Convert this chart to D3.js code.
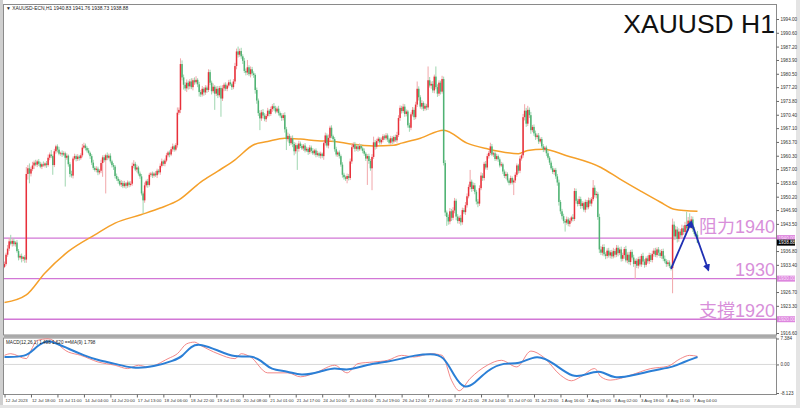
<!DOCTYPE html>
<html><head><meta charset="utf-8">
<script src="https://cdn.jsdelivr.net/npm/d3@7/dist/d3.min.js"></script>
<style>
body{margin:0;background:#fff}
svg{display:block}
text{font-family:"Liberation Sans",Arial,"Noto Sans CJK TC",sans-serif}
</style>
</head><body>
<svg id="c" width="800" height="408"></svg>
<script>
// ---------------- data ----------------
const timeLabels = ["12 Jul 2023","12 Jul 18:00","13 Jul 11:00","14 Jul 04:00","14 Jul 20:00","17 Jul 13:00","18 Jul 06:00","18 Jul 22:00","19 Jul 15:00","20 Jul 08:00","21 Jul 01:00","21 Jul 17:00","24 Jul 10:00","25 Jul 03:00","25 Jul 19:00","26 Jul 12:00","27 Jul 05:00","27 Jul 21:00","28 Jul 14:00","31 Jul 07:00","31 Jul 23:00","1 Aug 16:00","2 Aug 09:00","3 Aug 02:00","3 Aug 18:00","4 Aug 11:00","7 Aug 04:00"];
const priceTicks = [1994.00,1990.60,1987.20,1983.90,1980.50,1977.20,1973.80,1970.40,1967.10,1963.70,1960.30,1957.00,1953.60,1950.20,1946.90,1943.50,1936.80,1933.40,1926.70,1923.30,1916.60];
const levelPrices = [1940.00, 1930.00, 1920.00];
const levelNotes = ["阻力1940", "1930", "支撐1920"];
const lastPrice = 1938.88;
const headerText = "▼ XAUUSD-ECN,H1  1940.83 1941.76 1938.73 1938.88";
const macdLabel = "MACD(12,26,1) 1.498 1.620  ==MA(9) 1.798";
const macdTicks = [7.384, 0.00, -8.123];

const firstOpen = 1932.9;
const closes = [
// 12 Jul
1933.6,1935.9,1937.4,1939.2,1938.6,1939.3,1938.5,1938.9,1936.8,1935.2,1935.6,1934.9,1935.3,1934.7,1955.8,1957.2,1955.9,1957.0,1957.9,1958.6,1958.1,1958.9,1958.3,
// 13 Jul
1957.6,1958.2,1957.9,1958.4,1958.0,1959.8,1960.6,1960.2,1958.0,1961.4,1962.6,1961.8,1960.8,1961.0,1960.6,1960.9,1959.8,1960.3,1958.2,1955.8,1955.4,1959.6,1960.2,1959.5,
// 14 Jul
1960.1,1959.7,1960.4,1962.3,1962.8,1962.2,1961.6,1961.0,1960.2,1958.6,1957.3,1956.8,1957.1,1956.2,1956.6,1958.5,1959.9,1959.2,1960.4,1959.8,1960.3,1958.9,1958.0,1957.6,
// 17 Jul
1955.3,1954.6,1954.1,1953.2,1953.6,1952.8,1953.5,1952.9,1953.7,1953.1,1953.4,1957.8,1958.3,1956.9,1957.4,1955.9,1955.2,1951.0,1949.3,1953.0,1954.0,1953.1,1955.6,1955.9,
// 18 Jul
1955.4,1955.9,1955.5,1956.6,1956.2,1957.8,1958.9,1958.3,1959.1,1960.4,1961.1,1960.6,1961.9,1962.6,1961.8,1962.9,1970.9,1971.6,1982.9,1979.6,1977.8,1976.9,1978.3,1977.4,
// 19 Jul
1978.6,1977.2,1978.9,1978.4,1979.0,1977.9,1976.0,1975.4,1976.8,1975.9,1977.1,1976.5,1980.9,1978.3,1976.2,1977.3,1975.6,1976.8,1975.2,1977.0,1974.4,1976.9,1977.8,1976.8,
// 20 Jul
1977.6,1978.4,1977.9,1977.2,1978.6,1982.4,1986.0,1985.2,1986.1,1984.8,1983.7,1981.2,1980.8,1982.1,1980.4,1981.6,1980.6,1980.2,1976.5,1973.9,1970.8,1969.5,1971.0,1970.2,
// 21 Jul
1969.3,1970.1,1971.4,1970.6,1971.8,1972.5,1972.0,1971.2,1971.9,1970.8,1970.2,1969.6,1970.3,1966.8,1964.4,1965.2,1963.4,1964.6,1963.2,1961.4,1962.9,1962.0,1963.3,1962.7,
// 24 Jul
1962.1,1962.8,1961.6,1962.0,1961.2,1962.3,1961.5,1960.9,1961.6,1960.5,1960.9,1960.3,1960.8,1960.2,1963.4,1965.3,1962.8,1964.7,1967.2,1965.1,1964.4,1961.9,1960.6,1961.1,
// 25 Jul
1960.2,1958.1,1955.6,1955.0,1954.6,1955.3,1954.8,1958.9,1962.4,1963.1,1962.0,1962.6,1961.9,1962.7,1962.1,1961.5,1960.8,1959.6,1960.2,1959.0,1957.2,1960.0,1963.6,1962.5,
// 26 Jul
1963.9,1964.5,1963.6,1964.2,1965.1,1964.6,1965.3,1964.3,1963.5,1964.6,1963.8,1964.9,1964.1,1965.4,1969.6,1972.1,1971.3,1972.4,1970.6,1971.2,1967.8,1967.2,1970.5,1971.6,
// 27 Jul
1969.8,1972.9,1976.8,1974.7,1972.4,1973.3,1971.9,1972.6,1972.2,1978.9,1977.6,1978.0,1976.4,1979.8,1977.2,1975.6,1978.3,1976.1,1979.2,1958.5,1946.3,1945.2,1944.1,1946.6,
// 28 Jul
1945.0,1946.8,1949.2,1945.3,1944.2,1945.0,1943.9,1946.9,1946.4,1948.1,1950.3,1952.6,1953.9,1952.1,1953.0,1951.4,1949.0,1948.5,1952.3,1955.4,1954.8,1958.3,1957.4,1960.2,
// 31 Jul
1961.0,1962.6,1960.6,1960.9,1959.5,1960.2,1959.4,1957.9,1958.2,1956.4,1955.3,1955.8,1954.2,1953.6,1954.8,1953.7,1954.2,1955.6,1957.9,1956.6,1959.6,1960.4,1969.8,1971.4,
// 1 Aug
1968.2,1971.6,1970.3,1966.6,1967.4,1965.8,1964.9,1965.3,1963.8,1964.4,1962.6,1961.8,1962.3,1960.9,1959.8,1958.6,1957.2,1956.3,1956.8,1955.2,1953.7,1948.9,1946.6,1945.4,
// 2 Aug
1944.2,1943.8,1944.6,1943.5,1944.3,1945.1,1944.7,1951.6,1949.2,1948.4,1949.6,1947.9,1948.6,1947.0,1948.9,1947.6,1949.3,1948.5,1949.6,1952.4,1950.6,1950.9,1945.2,1937.2,
// 3 Aug
1936.4,1937.8,1936.0,1935.6,1936.9,1935.7,1936.5,1935.5,1936.8,1935.9,1937.6,1936.3,1937.2,1934.9,1935.8,1937.3,1934.5,1935.9,1934.1,1936.6,1935.2,1933.6,1934.4,1933.2,
// 4 Aug
1934.8,1933.5,1935.6,1934.2,1933.4,1935.0,1934.3,1935.8,1934.6,1936.1,1936.9,1935.8,1937.2,1936.4,1935.6,1936.8,1934.9,1934.3,1933.6,1934.0,1933.1,1932.6,1943.3,1940.4,
// 7 Aug
1942.1,1939.8,1941.6,1940.7,1942.4,1941.5,1943.2,1942.4,1944.3,1943.1,1944.6,1942.2,1941.0,1940.83,1938.88
];
const upperWicks = [
0.6,0.5,0.9,0.8,1.6,0.5,0.7,0.4,0.6,0.5,0.4,0.6,0.3,0.5,1.7,0.8,1.2,0.6,0.9,0.5,0.7,0.4,0.6,
0.5,0.4,0.7,0.3,0.6,0.8,0.5,1.1,0.4,0.6,0.4,0.5,0.7,0.3,0.6,0.5,0.4,0.6,0.3,0.5,0.8,0.5,0.6,0.4,
0.6,0.4,0.5,0.9,0.7,0.5,0.4,0.6,0.3,0.5,0.7,0.4,0.6,0.5,0.4,0.8,0.5,0.6,0.4,0.7,0.5,0.6,0.4,0.5,
0.4,0.6,0.5,0.4,0.7,0.5,0.6,0.3,0.5,0.4,0.6,0.8,0.9,0.5,0.7,0.4,0.5,0.6,0.5,0.7,0.4,0.6,0.5,0.4,
0.5,0.4,0.6,0.5,0.4,0.6,0.7,0.4,0.5,0.6,0.4,0.5,0.6,0.7,0.4,0.5,1.3,0.6,1.4,0.9,0.7,0.6,0.8,0.5,
0.6,0.8,0.5,0.7,0.9,0.4,0.6,0.5,0.7,0.4,0.6,0.5,0.7,0.6,0.5,0.8,0.4,0.6,0.7,0.5,0.6,0.8,0.5,0.6,
0.5,0.6,0.7,0.4,0.6,0.8,0.7,1.2,0.6,0.8,0.5,0.7,0.6,1.8,0.5,0.7,0.6,0.5,0.4,0.6,0.5,0.7,0.6,0.8,
0.6,0.5,0.7,0.4,0.6,0.5,0.8,0.6,0.5,0.7,0.4,0.6,0.5,0.7,0.6,0.8,0.5,0.6,0.7,0.5,0.6,0.4,0.7,0.5,
0.5,0.4,0.6,0.5,0.4,0.6,0.5,0.7,0.4,0.5,0.6,0.4,0.5,0.3,0.6,0.7,0.5,0.8,0.5,0.6,0.4,0.5,0.6,0.4,
0.5,0.4,0.6,0.5,0.4,0.6,0.5,0.7,0.9,0.5,0.6,0.4,0.5,0.6,0.4,0.5,0.6,0.4,0.5,0.6,0.5,0.7,1.4,0.6,
0.6,0.5,0.4,0.6,0.5,0.4,0.6,0.5,0.4,0.6,0.5,0.4,0.6,0.8,0.7,0.6,0.5,0.7,0.6,0.5,0.4,0.6,0.5,0.7,
0.6,0.7,1.8,0.6,0.5,0.7,0.4,0.6,0.5,3.4,0.8,0.6,0.7,0.5,2.5,0.7,0.6,0.5,0.8,0.6,0.7,0.5,0.6,0.8,
0.6,0.8,0.7,0.5,0.6,0.5,0.7,0.6,0.5,0.8,0.7,0.6,2.9,0.5,0.7,0.6,0.5,0.6,0.7,0.8,0.6,0.5,0.7,0.6,
0.5,0.9,0.6,0.4,0.5,0.6,0.4,0.5,0.6,0.4,0.5,0.6,0.4,0.5,0.6,0.4,0.5,0.6,0.5,0.4,0.6,0.5,0.8,1.6,
0.7,1.0,0.6,0.8,0.5,0.6,0.7,0.5,0.6,0.4,0.5,0.6,0.4,0.5,0.6,0.4,0.5,0.6,0.4,0.5,0.6,0.7,0.5,0.6,
0.6,0.5,0.7,0.5,0.6,0.4,0.8,0.7,0.6,0.5,0.7,0.6,0.5,0.4,0.6,0.5,0.7,0.6,0.5,1.9,0.6,0.7,0.5,0.8,
0.8,0.6,0.7,0.5,0.6,0.7,0.5,0.6,0.8,0.5,0.7,0.6,0.5,0.7,0.6,0.5,0.8,0.6,0.7,0.5,0.6,0.7,0.5,0.6,
0.6,0.7,0.5,0.8,0.6,0.5,0.7,0.6,0.5,0.8,0.6,0.7,0.5,0.6,0.7,0.5,0.6,0.8,0.5,0.6,0.5,0.4,1.5,0.8,
0.9,0.7,0.8,0.6,0.9,0.7,0.8,3.3,0.9,1.8,0.8,0.7,0.6,0.5,0.93
];
const lowerWicks = [
0.3,0.4,0.5,0.6,0.4,0.7,0.5,0.6,0.4,0.7,0.5,0.9,0.6,0.8,0.8,1.4,2.4,0.7,0.5,0.9,0.4,0.6,0.5,
0.4,0.6,0.3,0.5,0.7,0.4,0.6,0.5,2.4,0.5,0.6,0.7,0.4,0.5,0.6,0.4,7.1,0.5,0.6,0.8,0.5,0.7,0.4,0.6,
0.5,0.6,0.4,0.5,0.3,0.6,0.5,0.4,0.7,0.6,0.5,0.4,0.6,0.7,0.5,0.6,3.4,0.5,8.2,0.6,0.4,0.5,0.6,0.8,
0.6,0.5,0.7,0.4,0.6,0.5,0.4,0.7,0.5,0.6,0.4,0.5,0.6,0.4,0.7,0.5,0.6,0.5,3.2,0.6,0.5,0.7,0.4,0.5,
0.6,0.5,0.4,0.7,0.5,0.6,0.4,0.5,0.6,0.4,0.5,0.7,0.4,0.6,0.5,0.4,0.6,0.5,0.8,0.7,1.2,0.6,0.9,0.8,
0.7,0.5,0.8,0.6,0.5,0.7,1.1,0.6,0.5,0.8,0.6,0.7,0.5,0.6,0.8,0.5,4.0,0.6,0.7,0.5,4.5,0.6,0.7,0.5,
0.6,0.5,0.4,0.7,0.5,0.6,0.8,0.7,0.5,0.6,0.8,0.5,0.7,0.6,0.5,0.8,0.6,0.7,0.9,0.8,0.7,2.9,0.6,0.7,
0.5,0.7,0.4,0.6,0.5,0.7,0.6,0.5,0.4,0.6,0.5,0.7,0.6,0.8,2.7,0.6,0.7,0.5,0.8,1.0,0.6,5.2,0.7,0.5,
0.4,0.6,0.5,0.4,0.7,0.5,0.6,0.4,0.5,0.6,0.4,0.5,0.7,0.5,0.9,0.6,0.5,0.7,0.6,0.5,0.7,0.6,0.5,0.6,
0.6,0.5,0.7,0.6,0.5,1.1,0.6,0.5,0.6,0.4,0.7,0.5,0.6,0.4,0.5,0.6,0.5,0.6,6.5,0.7,0.6,5.4,0.5,0.7,
0.5,0.4,0.6,0.5,0.6,0.4,0.5,0.6,0.4,0.5,0.6,0.5,0.4,0.6,0.5,0.7,0.6,0.5,0.7,0.6,0.6,1.0,0.6,0.5,
0.7,0.5,0.6,0.8,0.5,0.7,0.6,0.5,0.7,0.6,0.5,0.8,0.6,0.7,0.5,0.8,0.6,0.7,0.5,0.6,0.9,2.2,0.8,0.7,
0.8,0.6,0.7,0.9,0.6,0.7,0.8,0.6,0.5,0.7,0.6,0.5,0.6,0.7,0.5,0.6,0.7,0.9,0.6,0.5,0.7,0.6,0.5,0.6,
0.6,0.5,0.4,0.6,0.5,0.4,0.6,0.5,0.4,0.6,0.5,0.7,0.5,0.6,0.4,0.5,3.1,0.6,0.5,0.7,0.6,0.5,0.6,0.8,
0.8,0.6,0.7,0.9,0.5,0.6,0.7,0.5,0.6,0.5,0.4,0.6,0.5,0.7,0.5,0.6,0.4,0.5,0.7,0.6,0.8,0.9,0.7,0.8,
0.6,2.2,0.5,0.6,0.7,0.5,0.6,0.5,0.7,0.6,0.5,0.7,0.6,0.5,0.7,0.6,0.5,0.6,0.7,0.5,0.6,0.8,0.7,0.9,
0.6,0.7,0.5,0.8,0.6,0.5,0.7,0.6,0.5,0.7,0.6,0.8,0.5,0.7,0.6,0.9,0.5,0.7,0.6,0.8,0.5,0.7,3.7,0.6,
0.7,0.5,0.6,0.8,0.7,0.5,0.6,0.7,0.5,0.6,0.7,0.5,0.6,0.8,0.5,0.7,0.6,0.5,0.7,0.6,0.5,0.6,6.2,0.9,
0.8,0.9,0.7,0.6,0.8,0.7,0.6,0.8,0.7,0.6,0.9,0.7,0.6,0.5,0.15
];

// moving average (orange), read at sample bars
const maIdx = [0,14,26,41,58,71,88,100,112,126,137,148,160,169,180,190,201,212,222,237,250,255,267,282,297,310,330,336,346,361,383,395,408,421,430,445];
const maVal = [1924.1,1926.0,1931.4,1936.7,1940.8,1943.7,1945.8,1947.4,1949.4,1953.8,1956.5,1959.3,1963.0,1963.8,1964.6,1964.4,1964.0,1963.8,1963.2,1962.7,1962.9,1963.4,1964.6,1966.6,1963.4,1962.0,1960.8,1961.6,1961.9,1960.3,1957.4,1954.6,1951.7,1948.9,1947.1,1946.6];

// MACD panel
const signalIdx = [0,14,19,26,32,41,51,60,71,82,96,109,114,120,126,137,148,158,165,171,182,190,203,212,220,233,246,255,263,274,282,289,295,302,310,321,330,342,353,365,374,383,391,404,417,430,436,445];
const signalVal = [2.12,2.12,4.47,6.82,6.35,4.47,2.59,1.18,0.24,-1.17,-0.70,1.18,2.12,5.41,5.88,4.00,1.93,2.59,1.18,-1.64,-1.83,-3.33,-2.11,-0.70,-1.92,0.05,0.71,1.65,2.59,3.06,2.59,-3.52,-7.09,-5.40,-1.64,0.71,-0.23,3.06,0.24,-3.99,-2.77,-1.45,-4.27,-3.05,-1.64,-0.70,0.71,2.12];
const macdIdx = [0,4,14,17,21,28,41,49,60,71,79,86,92,105,111,117,122,126,137,148,152,158,169,182,190,201,212,220,227,237,246,255,263,274,281,287,292,299,310,319,329,338,346,357,364,370,379,383,389,402,415,426,434,440,445];
const macdVal = [2.59,3.06,1.65,4.00,6.82,7.29,3.53,2.59,0.71,-0.23,-1.17,-0.23,-0.70,1.65,3.06,5.88,6.35,5.41,3.06,1.65,3.06,2.12,-2.39,-2.39,-3.52,-2.11,-0.23,-2.39,0.24,0.71,1.18,2.59,2.12,3.06,2.59,-4.46,-7.47,-3.99,-0.23,1.18,-0.70,3.81,2.12,-3.05,-4.65,-3.52,-1.17,-3.52,-4.46,-3.05,-1.17,-0.51,1.65,2.59,2.30];

// hand-drawn forecast arrow (bar index, price)
const arrowIdx = [428, 441, 452];
const arrowPrice = [1932.4, 1944.0, 1932.1];

// ---------------- drawing ----------------
const svg = d3.select('#c');
const W = 800, H = 408;
const PL = 3.5, PR = 776.5, PT = 4.5, PB = 335, MT = 338, MB = 394.5;

const x = d3.scaleLinear().domain([0, closes.length - 1]).range([4.5, 697.5]);
const y = d3.scaleLinear().domain([1916.11, 1997.45]).range([335, 5]);
const ym = d3.scaleLinear().domain([-8.123, 7.384]).range([393, 338.5]);

// outer chrome
svg.append('rect').attr('width', W).attr('height', H).attr('fill', '#fff');
svg.append('rect').attr('x', 0).attr('y', 0).attr('width', 3).attr('height', H).attr('fill', '#cfcfcf');
svg.append('rect').attr('x', 796).attr('y', 0).attr('width', 4).attr('height', H).attr('fill', '#e4e4e4');
svg.append('rect').attr('x', 0).attr('y', 405).attr('width', W).attr('height', 3).attr('fill', '#e4e4e4');

const defs = svg.append('defs');
defs.append('clipPath').attr('id', 'mainClip').append('rect')
  .attr('x', PL).attr('y', PT).attr('width', PR - PL).attr('height', PB - PT);
defs.append('clipPath').attr('id', 'macdClip').append('rect')
  .attr('x', PL).attr('y', MT).attr('width', PR - PL).attr('height', MB - MT);
defs.append('marker').attr('id', 'ah').attr('viewBox', '0 0 10 10').attr('refX', 8).attr('refY', 5)
  .attr('markerWidth', 4).attr('markerHeight', 4).attr('orient', 'auto')
  .append('path').attr('d', 'M0,0 L10,5 L0,10 z').attr('fill', '#1f2fb3');

// header
svg.append('text').attr('x', 6).attr('y', 10).attr('font-size', 4.9).attr('fill', '#222').text(headerText);

const main = svg.append('g').attr('clip-path', 'url(#mainClip)');

// level lines
main.selectAll('line.lvl').data(levelPrices).join('line').attr('class', 'lvl')
  .attr('x1', PL).attr('x2', PR).attr('y1', d => y(d)).attr('y2', d => y(d))
  .attr('stroke', '#d277d6').attr('stroke-width', 1.4);

// moving average
main.append('path').datum(maIdx.map((d, i) => [d, maVal[i]]))
  .attr('fill', 'none').attr('stroke', '#f5a02a').attr('stroke-width', 1.5)
  .attr('d', d3.line().x(d => x(d[0])).y(d => y(d[1])).curve(d3.curveMonotoneX));

// candles
const bars = closes.map((c, i) => {
  const o = i === 0 ? firstOpen : closes[i - 1];
  return { i, o, c, h: Math.max(o, c) + upperWicks[i], l: Math.min(o, c) - lowerWicks[i] };
});
const upBody = '#e8303a', dnBody = '#4fb273', upWick = '#f1a7aa', dnWick = '#9fd6b0';
main.selectAll('line.wick').data(bars).join('line').attr('class', 'wick')
  .attr('x1', d => x(d.i)).attr('x2', d => x(d.i))
  .attr('y1', d => y(d.h)).attr('y2', d => y(d.l))
  .attr('stroke', d => d.c >= d.o ? upWick : dnWick).attr('stroke-width', 1);
main.selectAll('rect.body').data(bars).join('rect').attr('class', 'body')
  .attr('x', d => x(d.i) - 0.75).attr('width', 1.5)
  .attr('y', d => y(Math.max(d.o, d.c)))
  .attr('height', d => Math.max(0.8, Math.abs(y(d.o) - y(d.c))))
  .attr('fill', d => d.c >= d.o ? upBody : dnBody);

// forecast arrows
const ap = arrowIdx.map((d, i) => [x(d), y(arrowPrice[i])]);
[[ap[0], ap[1]], [ap[1], ap[2]]].forEach(seg => {
  svg.append('line').attr('x1', seg[0][0]).attr('y1', seg[0][1]).attr('x2', seg[1][0]).attr('y2', seg[1][1])
    .attr('stroke', '#1f2fb3').attr('stroke-width', 1.8).attr('marker-end', 'url(#ah)');
});

// level notes
svg.selectAll('text.note').data(levelNotes).join('text').attr('class', 'note')
  .attr('x', 775).attr('y', (d, i) => y(levelPrices[i]) - (i === 0 ? 5 : 2.5))
  .attr('text-anchor', 'end').attr('font-size', 18).attr('fill', '#d88fda').text(d => d);

// title
svg.append('text').attr('x', 775).attr('y', 33).attr('text-anchor', 'end')
  .attr('font-size', 26.5).attr('fill', '#111').text('XAUUSD H1');

// frames
svg.append('rect').attr('x', PL).attr('y', PT).attr('width', PR - PL).attr('height', PB - PT)
  .attr('fill', 'none').attr('stroke', '#8a8a8a').attr('stroke-width', 1);
svg.append('rect').attr('x', PL).attr('y', 335).attr('width', PR - PL).attr('height', 2.5).attr('fill', '#a9a9a9');
svg.append('rect').attr('x', PL).attr('y', MT).attr('width', PR - PL).attr('height', MB - MT)
  .attr('fill', 'none').attr('stroke', '#8a8a8a').attr('stroke-width', 1);

// right price axis
const ya = svg.append('g').attr('transform', `translate(${PR},0)`)
  .call(d3.axisRight(y).tickValues(priceTicks).tickSize(2.5).tickPadding(1.5).tickFormat(d3.format('.2f')));
ya.select('.domain').remove();
ya.selectAll('text').attr('font-size', 4.6).attr('fill', '#333');
ya.selectAll('line').attr('stroke', '#666');

// level price boxes & last price box
levelPrices.forEach(p => {
  svg.append('rect').attr('x', PR + 0.5).attr('y', y(p) - 3).attr('width', 18).attr('height', 6).attr('fill', '#dd86de');
  svg.append('text').attr('x', PR + 2).attr('y', y(p) + 1.7).attr('font-size', 4.6).attr('fill', '#fbe3fb').text(p.toFixed(2));
});
svg.append('rect').attr('x', PR + 0.5).attr('y', y(lastPrice) - 3).attr('width', 18).attr('height', 6).attr('fill', '#000');
svg.append('text').attr('x', PR + 2).attr('y', y(lastPrice) + 1.7).attr('font-size', 4.6).attr('fill', '#fff').text(lastPrice.toFixed(2));

// MACD panel
const mg = svg.append('g').attr('clip-path', 'url(#macdClip)');
mg.append('line').attr('x1', PL).attr('x2', PR).attr('y1', ym(0)).attr('y2', ym(0))
  .attr('stroke', '#d8d8d8').attr('stroke-width', 1);
mg.append('path').datum(macdIdx.map((d, i) => [d, macdVal[i]]))
  .attr('fill', 'none').attr('stroke', '#f07a7a').attr('stroke-width', 0.9)
  .attr('d', d3.line().x(d => x(d[0])).y(d => ym(d[1])).curve(d3.curveMonotoneX));
mg.append('path').datum(signalIdx.map((d, i) => [d, signalVal[i]]))
  .attr('fill', 'none').attr('stroke', '#2b7fd6').attr('stroke-width', 2)
  .attr('d', d3.line().x(d => x(d[0])).y(d => ym(d[1])).curve(d3.curveBasis));
svg.append('text').attr('x', 6).attr('y', 344).attr('font-size', 4.6).attr('fill', '#222').text(macdLabel);

const ma = svg.append('g').attr('transform', `translate(${PR},0)`)
  .call(d3.axisRight(ym).tickValues(macdTicks).tickSize(2.5).tickPadding(1.5)
    .tickFormat(d => d === 0 ? '0.00' : String(d)));
ma.select('.domain').remove();
ma.selectAll('text').attr('font-size', 4.6).attr('fill', '#333');
ma.selectAll('line').attr('stroke', '#666');

// time axis
const xa = svg.append('g').attr('transform', `translate(0,${MB})`)
  .call(d3.axisBottom(x).tickValues(d3.range(0, closes.length, 17)).tickSize(3).tickPadding(1.5)
    .tickFormat((d, i) => timeLabels[i]));
xa.select('.domain').remove();
xa.selectAll('text').attr('font-size', 4.3).attr('fill', '#333').attr('text-anchor', 'start').attr('dx', 0.5);
xa.selectAll('line').attr('stroke', '#666');
</script>
</body></html>
